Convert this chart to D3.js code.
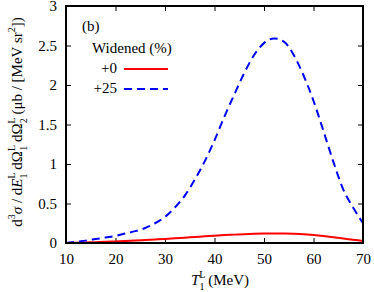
<!DOCTYPE html>
<html>
<head>
<meta charset="utf-8">
<script src="https://cdn.jsdelivr.net/npm/d3@7"></script>
<style>
  body { margin: 0; background: #fff; }
</style>
</head>
<body>
<svg id="chart" width="374" height="292"></svg>
<script>
// T1 (MeV) sample points and curves
const energy = [10, 12, 14, 16, 18, 20, 22, 24, 26, 28, 30, 32, 34, 36, 38, 40,
    42, 44, 46, 48, 50, 52, 54, 56, 58, 60, 62, 64, 66, 68, 70]
const widened0 = [0.0, 0.003, 0.007, 0.011, 0.015, 0.02, 0.025, 0.031, 0.038, 0.045, 0.052, 0.06,
    0.068, 0.076, 0.084, 0.092, 0.1, 0.106, 0.112, 0.117, 0.12, 0.121, 0.12, 0.116, 0.11,
    0.1, 0.088, 0.074, 0.058, 0.042, 0.026]
const widened25 = [0.0, 0.015, 0.03, 0.05, 0.07, 0.09, 0.12, 0.15, 0.19, 0.25, 0.33, 0.45,
    0.6, 0.8, 1.03, 1.3, 1.6, 1.88, 2.15, 2.38, 2.53, 2.59, 2.55, 2.38, 2.12,
    1.8, 1.42, 1.03, 0.68, 0.45, 0.25]
const xTicks = [10, 20, 30, 40, 50, 60, 70]
const yTicks = [0, 0.5, 1, 1.5, 2, 2.5, 3]
const yTickLabels = ["0", "0.5", "1", "1.5", "2", "2.5", "3"]

const plotLeft = 66, plotRight = 363, plotTop = 6, plotBottom = 243
const serif = "'Times New Roman', Tinos, serif"

const svg = d3.select("#chart")

let x = d3.scaleLinear().domain([10, 70]).range([plotLeft, plotRight])
let y = d3.scaleLinear().domain([0, 3]).range([plotBottom, plotTop])

// ticks (inward, mirrored on top/right)
const tickLen = 5
svg.append("g")
    .attr("transform", "translate(0," + plotBottom + ")")
    .call(d3.axisBottom(x).tickValues(xTicks).tickSizeInner(-tickLen).tickSizeOuter(0).tickPadding(10))
    .call(g => g.select(".domain").remove())
    .call(g => g.selectAll("text").attr("font-size", 15).attr("fill", "#000"))
svg.append("g")
    .attr("transform", "translate(0," + plotTop + ")")
    .call(d3.axisTop(x).tickValues(xTicks).tickSizeInner(-tickLen).tickSizeOuter(0).tickFormat(""))
    .call(g => g.select(".domain").remove())
svg.append("g")
    .attr("transform", "translate(" + plotLeft + ",0)")
    .call(d3.axisLeft(y).tickValues(yTicks).tickSizeInner(-tickLen).tickSizeOuter(0).tickPadding(9)
        .tickFormat((d, i) => yTickLabels[i]))
    .call(g => g.select(".domain").remove())
    .call(g => g.selectAll("text").attr("font-size", 15).attr("fill", "#000"))
svg.append("g")
    .attr("transform", "translate(" + plotRight + ",0)")
    .call(d3.axisRight(y).tickValues(yTicks).tickSizeInner(-tickLen).tickSizeOuter(0).tickFormat(""))
    .call(g => g.select(".domain").remove())
svg.selectAll(".tick line").attr("stroke", "#000").attr("stroke-width", 1)

// curves
const line = d3.line().x((d, i) => x(energy[i])).y(d => y(d)).curve(d3.curveMonotoneX)

svg.append("path")
    .datum(widened0)
    .attr("d", line)
    .attr("fill", "none")
    .attr("stroke", "#ff0000")
    .attr("stroke-width", 2)

svg.append("path")
    .datum(widened25)
    .attr("d", line)
    .attr("fill", "none")
    .attr("stroke", "#0000ff")
    .attr("stroke-width", 2)
    .attr("stroke-dasharray", "8,5")

// frame
svg.append("rect")
    .attr("x", plotLeft)
    .attr("y", plotTop)
    .attr("width", plotRight - plotLeft)
    .attr("height", plotBottom - plotTop)
    .attr("fill", "none")
    .attr("stroke", "#000")
    .attr("stroke-width", 2)

// legend
svg.append("text").attr("x", 82).attr("y", 31).attr("font-size", 15).text("(b)")
svg.append("text").attr("x", 92).attr("y", 53).attr("font-size", 15).text("Widened (%)")
svg.append("text").attr("x", 117).attr("y", 73).attr("font-size", 15).attr("text-anchor", "end").text("+0")
svg.append("text").attr("x", 117).attr("y", 93).attr("font-size", 15).attr("text-anchor", "end").text("+25")
svg.append("line").attr("x1", 124).attr("x2", 168).attr("y1", 69).attr("y2", 69)
    .attr("stroke", "#ff0000").attr("stroke-width", 2)
svg.append("line").attr("x1", 124).attr("x2", 168).attr("y1", 89).attr("y2", 89)
    .attr("stroke", "#0000ff").attr("stroke-width", 2).attr("stroke-dasharray", "8,5")

// x label
const xl = svg.append("text").attr("x", 220).attr("y", 285).attr("font-size", 15).attr("text-anchor", "middle")
xl.append("tspan").attr("font-style", "italic").text("T")
xl.append("tspan").attr("font-size", 10).attr("dy", -7).text("L")
xl.append("tspan").attr("font-size", 10).attr("dx", -6).attr("dy", 12).text("1")
xl.append("tspan").attr("dy", -5).text(" (MeV)")

// y label
const yl = svg.append("text")
    .attr("transform", "translate(22," + 122 + ") rotate(-90)")
    .attr("font-size", 15)
    .attr("text-anchor", "middle")
yl.append("tspan").text("d")
yl.append("tspan").attr("font-size", 10).attr("dy", -7).text("3")
yl.append("tspan").attr("font-style", "italic").attr("dy", 7).text("σ")
yl.append("tspan").text(" / d")
yl.append("tspan").attr("font-style", "italic").text("E")
yl.append("tspan").attr("font-size", 10).attr("dy", -7).text("L")
yl.append("tspan").attr("font-size", 10).attr("dx", -6).attr("dy", 12).text("1")
yl.append("tspan").attr("dy", -5).text(" dΩ")
yl.append("tspan").attr("font-size", 10).attr("dy", -7).text("L")
yl.append("tspan").attr("font-size", 10).attr("dx", -6).attr("dy", 12).text("1")
yl.append("tspan").attr("dy", -5).text(" dΩ")
yl.append("tspan").attr("font-size", 10).attr("dy", -7).text("L")
yl.append("tspan").attr("font-size", 10).attr("dx", -6).attr("dy", 12).text("2")
yl.append("tspan").attr("dy", -5).text(" (μb / [MeV sr")
yl.append("tspan").attr("font-size", 10).attr("dy", -7).text("2")
yl.append("tspan").attr("dy", 7).text("])")

svg.selectAll("text").style("font-family", serif)
</script>
</body>
</html>
